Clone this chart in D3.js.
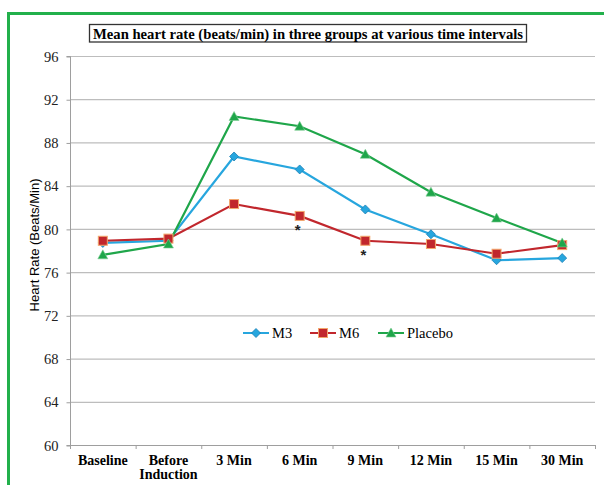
<!DOCTYPE html>
<html><head><meta charset="utf-8">
<script src="https://cdn.jsdelivr.net/npm/d3@7"></script>
<style>body{margin:0;background:#fff}svg{display:block}</style>
</head><body>
<svg id="c" width="604" height="485"></svg>
<script>
const categories = ["Baseline", "Before\nInduction", "3 Min", "6 Min", "9 Min", "12 Min", "15 Min", "30 Min"];
const m3 = [78.7, 78.9, 86.7, 85.5, 81.8, 79.5, 77.1, 77.3];
const m6 = [78.9, 79.1, 82.3, 81.2, 78.9, 78.6, 77.7, 78.5];
const placebo = [77.6, 78.6, 90.4, 89.5, 86.9, 83.4, 81.0, 78.7];
const yTicks = [60, 64, 68, 72, 76, 80, 84, 88, 92, 96];
const seriesNames = ["M3", "M6", "Placebo"];
const asterisks = [{cat: 3, series: "M6"}, {cat: 4, series: "M6"}];

const svg = d3.select("#c");
const L = 70, R = 595, T = 56, B = 445;
const x = d3.scaleBand().domain(d3.range(categories.length)).range([L, R]).paddingInner(0).paddingOuter(0);
const y = d3.scaleLinear().domain([60, 96]).range([B, T]);

// green frame
svg.append("path").attr("d", `M8.5,490 V13.5 H610`).attr("fill", "none").attr("stroke", "#22b04b").attr("stroke-width", 3);

// title box
svg.append("rect").attr("x", 89.5).attr("y", 24.5).attr("width", 437).attr("height", 17.5)
  .attr("fill", "#fff").attr("stroke", "#333").attr("stroke-width", 1.3);
svg.append("text").attr("x", 308).attr("y", 38.5).attr("text-anchor", "middle")
  .attr("font-family", "Liberation Serif, Times New Roman, serif").attr("font-weight", "bold").attr("font-size", 15.5)
  .attr("textLength", 430).attr("lengthAdjust", "spacingAndGlyphs")
  .attr("fill", "#000").text("Mean heart rate (beats/min) in three groups at various time intervals");

// gridlines
svg.append("g").selectAll("line").data(yTicks.filter(d => d > 60)).join("line")
  .attr("x1", L).attr("x2", R).attr("y1", d => y(d) + 0.5).attr("y2", d => y(d) + 0.5)
  .attr("stroke", "#bdbdbd").attr("stroke-width", 1.2);

// y axis
const yAxis = d3.axisLeft(y).tickValues(yTicks).tickSize(4).tickPadding(8).tickFormat(d3.format("d"));
const gy = svg.append("g").attr("transform", `translate(${L + 0.5},0.5)`).call(yAxis);
gy.select(".domain").attr("stroke", "#9e9e9e").attr("d", `M-4,${T}H0V${B}H-4`);
gy.selectAll(".tick line").attr("stroke", "#9e9e9e");
gy.selectAll(".tick text").attr("font-family", "Liberation Serif, Times New Roman, serif").attr("font-size", 14.5).attr("fill", "#222");

// x axis
svg.append("line").attr("x1", L).attr("x2", R).attr("y1", B + 0.5).attr("y2", B + 0.5).attr("stroke", "#9e9e9e").attr("stroke-width", 1.2);
svg.append("g").selectAll("line").data(d3.range(categories.length + 1)).join("line")
  .attr("x1", i => (i < categories.length ? x(i) : R) + 0.5).attr("x2", i => (i < categories.length ? x(i) : R) + 0.5)
  .attr("y1", B).attr("y2", B + 4).attr("stroke", "#9e9e9e");
const xl = svg.append("g").selectAll("text").data(categories).join("text")
  .attr("x", (d, i) => x(i) + x.bandwidth() / 2).attr("y", 465).attr("text-anchor", "middle")
  .attr("font-family", "Liberation Serif, Times New Roman, serif").attr("font-weight", "bold").attr("font-size", 14).attr("fill", "#000");
xl.each(function(d) {
  const parts = d.split("\n");
  const t = d3.select(this);
  parts.forEach((p, k) => t.append("tspan").attr("x", t.attr("x")).attr("dy", k === 0 ? 0 : 14).text(p));
});

// y axis title
svg.append("text").attr("transform", `translate(39,245) rotate(-90)`).attr("text-anchor", "middle")
  .attr("font-family", "Liberation Sans, Arial, sans-serif").attr("font-size", 13).attr("fill", "#000")
  .text("Heart Rate (Beats/Min)");

const cx = i => x(i) + x.bandwidth() / 2;
const series = [
  {name: "M3", values: m3, color: "#27a6de", marker: "diamond"},
  {name: "M6", values: m6, color: "#c1272d", marker: "square"},
  {name: "Placebo", values: placebo, color: "#1fa64a", marker: "triangle"}
];
const line = d3.line().x((d, i) => cx(i)).y(d => y(d));

function drawMarker(g, type, color, px, py) {
  if (type === "diamond") {
    g.append("path").attr("d", `M${px},${py - 4.5}L${px + 4.5},${py}L${px},${py + 4.5}L${px - 4.5},${py}Z`)
      .attr("fill", color).attr("stroke", "#1a7fb5").attr("stroke-width", 0.8);
  } else if (type === "square") {
    g.append("rect").attr("x", px - 4.5).attr("y", py - 4.5).attr("width", 9).attr("height", 9)
      .attr("fill", color).attr("stroke", "#f3a66b").attr("stroke-width", 1);
  } else {
    g.append("path").attr("d", `M${px},${py - 5}L${px + 5},${py + 4}L${px - 5},${py + 4}Z`)
      .attr("fill", color).attr("stroke", "#7fcf95").attr("stroke-width", 0.6);
  }
}

series.forEach(s => {
  svg.append("path").datum(s.values).attr("d", line).attr("fill", "none").attr("stroke", s.color).attr("stroke-width", 2.2);
});
series.forEach(s => {
  const g = svg.append("g");
  s.values.forEach((v, i) => drawMarker(g, s.marker, s.color, cx(i), y(v)));
});

// asterisks
asterisks.forEach(a => {
  const s = series.find(d => d.name === a.series);
  svg.append("text").attr("x", cx(a.cat) - 2).attr("y", y(s.values[a.cat]) + 19).attr("text-anchor", "middle")
    .attr("font-family", "Liberation Sans, Arial, sans-serif").attr("font-weight", "bold").attr("font-size", 15).attr("fill", "#222").text("*");
});

// legend
const legX = [243, 310, 378];
series.forEach((s, k) => {
  const g = svg.append("g");
  const lx = legX[k], ly = 333;
  g.append("line").attr("x1", lx).attr("x2", lx + 26).attr("y1", ly).attr("y2", ly).attr("stroke", s.color).attr("stroke-width", 2);
  drawMarker(g, s.marker, s.color, lx + 13, ly);
  g.append("text").attr("x", lx + 29).attr("y", ly + 5).attr("font-family", "Liberation Serif, Times New Roman, serif")
    .attr("font-size", 14.5).attr("fill", "#000").text(s.name);
});
</script>
</body></html>
